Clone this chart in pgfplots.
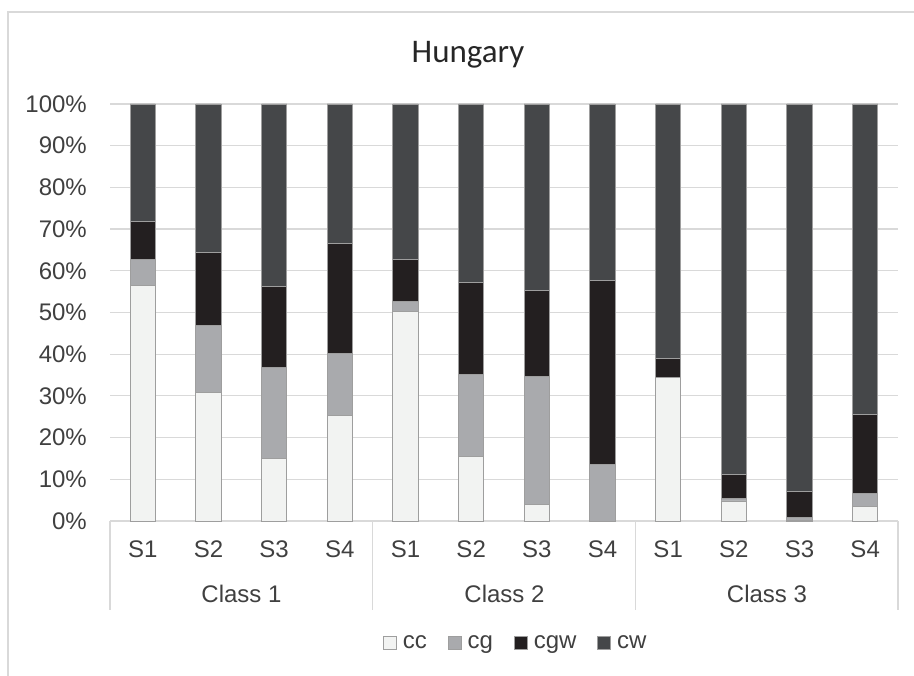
\documentclass[border=0pt]{standalone}
\usepackage{pgfplots}
\pgfplotsset{compat=1.18}
\usepackage{fontspec}
\setmainfont{Liberation Sans}
\newfontfamily\titlefont{Carlito}
\definecolor{ccC}{HTML}{F2F3F2}
\definecolor{cgC}{HTML}{A9AAAD}
\definecolor{cgwC}{HTML}{231F20}
\definecolor{cwC}{HTML}{454749}
\definecolor{edgeC}{HTML}{9E9E9E}
\definecolor{gridC}{HTML}{D9D9D9}
\definecolor{txtC}{HTML}{404040}
\begin{document}
\begin{tikzpicture}
\path[use as bounding box] (0,0) rectangle (914bp,676bp);
\draw[gridC, line width=1.5bp] (8bp,0) -- (8bp,664bp) -- (914bp,664bp);
\node[anchor=base, font=\titlefont\fontsize{33bp}{38bp}\selectfont, text=black!85] at (468bp,613bp) {Hungary};
\begin{axis}[
  at={(110bp,155bp)}, anchor=south west,
  width=788bp, height=417bp, scale only axis,
  xmin=-0.5, xmax=11.5, ymin=0, ymax=100,
  enlargelimits=false, clip=false,
  ybar stacked, bar width=25.3bp,
  axis x line*=bottom, axis y line*=left,
  y axis line style={draw=none},
  x axis line style={draw=gridC, line width=1.2bp},
  tick style={draw=none},
  ymajorgrids, grid style={gridC, line width=1.2bp},
  xtick={0,...,11},
  xticklabels={S1,S2,S3,S4,S1,S2,S3,S4,S1,S2,S3,S4},
  ytick={0,10,...,100},
  yticklabels={0\%,10\%,20\%,30\%,40\%,50\%,60\%,70\%,80\%,90\%,100\%},
  tick label style={font=\fontsize{24bp}{28bp}\selectfont, text=txtC, inner sep=0pt},
  yticklabel style={anchor=east, xshift=-23bp},
  xticklabel style={anchor=north, yshift=-20bp},
  legend columns=4,
  legend style={draw=none, fill=none, at={(0.515,-0.2926)}, anchor=center,
    font=\fontsize{24bp}{28bp}\selectfont, text=txtC,
    /tikz/every odd column/.append style={column sep=4bp},
    /tikz/every even column/.append style={column sep=19bp}},
  sq/.style={legend image code/.code={\draw[##1] (0bp,-6.5bp) rectangle (13bp,6.5bp);}},
]
\addplot[fill=ccC, draw=edgeC, line width=0.8bp, sq] coordinates {(0,56.4) (1,30.9) (2,15.1) (3,25.3) (4,50.2) (5,15.4) (6,4.0) (7,0) (8,34.5) (9,4.8) (10,0.2) (11,3.4)};
\addplot[fill=cgC, draw=edgeC, line width=0.8bp, sq] coordinates {(0,6.3) (1,15.9) (2,21.8) (3,14.9) (4,2.4) (5,19.8) (6,30.7) (7,13.6) (8,0) (9,0.5) (10,0.6) (11,3.2)};
\addplot[fill=cgwC, draw=edgeC, line width=0.8bp, sq] coordinates {(0,9.2) (1,17.5) (2,19.4) (3,26.4) (4,10.1) (5,22.0) (6,20.6) (7,44.1) (8,4.5) (9,5.9) (10,6.2) (11,19.0)};
\addplot[fill=cwC, draw=edgeC, line width=0.8bp, sq] coordinates {(0,28.1) (1,35.7) (2,43.7) (3,33.4) (4,37.3) (5,42.8) (6,44.7) (7,42.3) (8,61.0) (9,88.8) (10,93.0) (11,74.4)};
\legend{cc,cg,cgw,cw}
\pgfplotsinvokeforeach{-0.5,3.5,7.5,11.5}{
  \draw[gridC, line width=1.2bp] (axis cs:#1,0) -- ++(0pt,-89bp);
}
\end{axis}
\foreach \cx/\lab in {241.5/Class 1, 504.5/Class 2, 767/Class 3} {
  \node[anchor=base, inner sep=0pt, font=\fontsize{24bp}{28bp}\selectfont, text=txtC] at (\cx bp,73bp) {\lab};
}
\end{tikzpicture}
\end{document}
